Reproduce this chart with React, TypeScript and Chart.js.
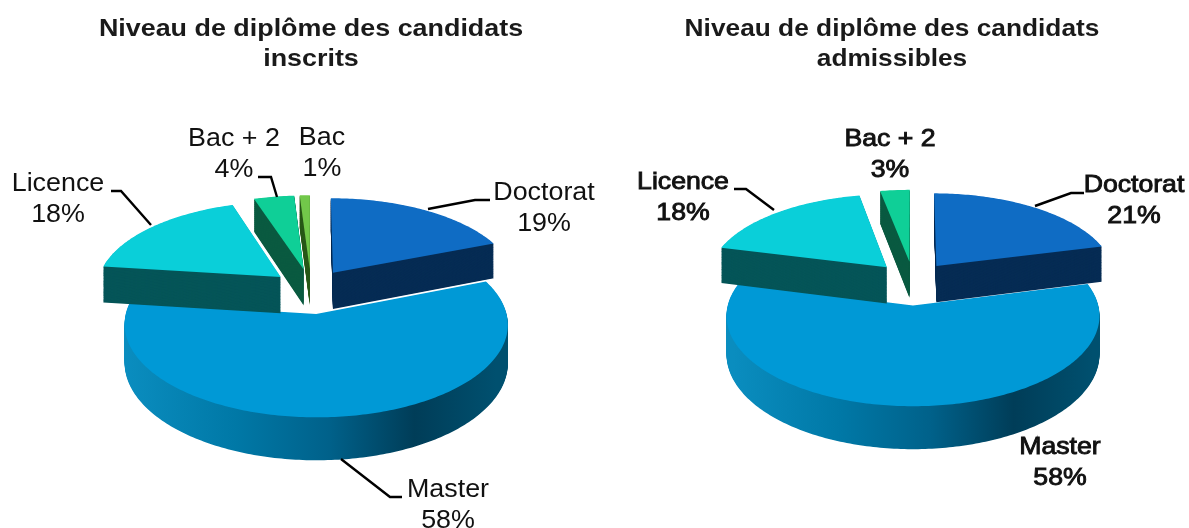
import React, { useEffect, useRef } from "react";
import { Chart, registerables } from "chart.js";

Chart.register(...registerables);

const categories = ["Doctorat", "Master", "Licence", "Bac + 2", "Bac"];
const inscritsValues = [19, 58, 18, 4, 1];
const admissiblesCategories = ["Doctorat", "Master", "Licence", "Bac + 2"];
const admissiblesValues = [21, 58, 18, 3];
const inscritsTitle = ["Niveau de diplôme des candidats", "inscrits"];
const admissiblesTitle = ["Niveau de diplôme des candidats", "admissibles"];

const topColors: Record<string, string> = {
  Doctorat: "#0F6CC4",
  Master: "#0099D6",
  Licence: "#0ACFD9",
  "Bac + 2": "#0FCF97",
  Bac: "#72C84A",
};
const sideColors: Record<string, string> = {
  Doctorat: "#062C54",
  Licence: "#055558",
  "Bac + 2": "#0A5A40",
  Bac: "#2A5A1A",
};
const drawOrder = ["Master", "Licence", "Bac + 2", "Bac", "Doctorat"];

const FONT = "'Liberation Sans', Arial, sans-serif";

type Cfg = {
  left: number;
  width: number;
  radius: number;
  offset: number;
  shiftX: number;
  paddingBottom: number;
  depth: number;
  labelFont: number;
  labelStroke: number;
  labelStretch: number;
  titleStretch: number;
  labels: Record<string, [number, number]>;
  leaders: [number, number][][];
};

const leftCfg: Cfg = {
  left: 0,
  width: 622,
  radius: 185,
  offset: 40,
  shiftX: 0,
  paddingBottom: 20,
  depth: 37,
  labelFont: 25,
  labelStroke: 0,
  labelStretch: 1.074,
  titleStretch: 1.12,
  labels: {
    Licence: [58, 184],
    "Bac + 2": [234, 139],
    Bac: [322, 138],
    Doctorat: [544, 193],
    Master: [448, 490],
  },
  leaders: [
    [[111, 191], [121, 191], [151, 225]],
    [[428, 209], [475, 200], [490, 200]],
    [[258, 177], [271, 177], [277, 197]],
    [[341, 459], [390, 497], [402, 497]],
  ],
};

const rightCfg: Cfg = {
  left: 595,
  width: 594,
  radius: 180,
  offset: 39,
  shiftX: 21,
  paddingBottom: 36,
  depth: 37,
  labelFont: 24,
  labelStroke: 0.9,
  labelStretch: 1.11,
  titleStretch: 1.095,
  labels: {
    Licence: [683, 182],
    "Bac + 2": [890, 139],
    Doctorat: [1134, 185],
    Master: [1060, 447],
  },
  leaders: [
    [[734, 189], [746, 189], [774, 210]],
    [[1035, 206], [1071, 193], [1084, 193]],
  ],
};

const PERSPECTIVE = 0.11;
const TILT = 0.468;
const EXPLODE_V = 1.2;

function pie3dPlugin(cfg: Cfg) {
  return {
    id: "pie3d",
    beforeDraw(chart: any) {
      const ctx: CanvasRenderingContext2D = chart.ctx;
      const mid = chart.width / 2;
      ctx.save();
      ctx.translate(mid, 0);
      ctx.scale(cfg.titleStretch, 1);
      ctx.translate(-mid, 0);
    },
    beforeDatasetsDraw(chart: any) {
      const ctx: CanvasRenderingContext2D = chart.ctx;
      ctx.restore();
      const meta = chart.getDatasetMeta(0);
      const labels: string[] = chart.data.labels;
      const order = drawOrder.filter((n) => labels.includes(n));
      for (const name of order) {
        const arc = meta.data[labels.indexOf(name)];
        const { x: ex, y, startAngle, endAngle, outerRadius } = arc.getProps(
          ["x", "y", "startAngle", "endAngle", "outerRadius"],
          true
        );
        const x = ex + cfg.shiftX;
        const off = (arc.options.offset || 0) / outerRadius;
        const mid = (startAngle + endAngle) / 2;
        const u0 = Math.cos(mid) * off;
        const v0 = Math.sin(mid) * off * EXPLODE_V;
        const project = (u: number, v: number) => {
          const d = 1 - PERSPECTIVE * v;
          return { px: x + (outerRadius * u) / d, py: y + (outerRadius * TILT * v) / d, d };
        };
        const pts: { px: number; py: number; d: number }[] = [project(u0, v0)];
        const steps = Math.max(4, Math.ceil((endAngle - startAngle) * 60));
        for (let i = 0; i <= steps; i++) {
          const a = startAngle + ((endAngle - startAngle) * i) / steps;
          pts.push(project(u0 + Math.cos(a), v0 + Math.sin(a)));
        }
        const path = (t: number) => {
          ctx.beginPath();
          pts.forEach((p, i) => {
            const yy = p.py + (t * cfg.depth) / p.d;
            if (i === 0) ctx.moveTo(p.px, yy);
            else ctx.lineTo(p.px, yy);
          });
          ctx.closePath();
        };
        let sideFill: any = sideColors[name];
        if (name === "Master") {
          const g = ctx.createLinearGradient(x - outerRadius, 0, x + outerRadius, 0);
          g.addColorStop(0, "#0A8DBF");
          g.addColorStop(0.3, "#0078A6");
          g.addColorStop(0.55, "#00618A");
          g.addColorStop(0.78, "#003D58");
          g.addColorStop(1, "#00506F");
          sideFill = g;
        }
        ctx.fillStyle = sideFill;
        const layers = Math.ceil(cfg.depth * 1.3);
        for (let i = layers; i >= 1; i--) {
          path(i / layers);
          ctx.fill();
        }
        path(0);
        ctx.fillStyle = arc.options.backgroundColor;
        ctx.fill();
      }
      return false;
    },
    afterDraw(chart: any) {
      const ctx: CanvasRenderingContext2D = chart.ctx;
      const labels: string[] = chart.data.labels;
      const values: number[] = chart.data.datasets[0].data;
      ctx.save();
      ctx.translate(-cfg.left, 0);
      ctx.strokeStyle = "#000";
      ctx.lineWidth = 2.4;
      for (const line of cfg.leaders) {
        ctx.beginPath();
        line.forEach(([a, b], i) => (i ? ctx.lineTo(a, b) : ctx.moveTo(a, b)));
        ctx.stroke();
      }
      ctx.fillStyle = "#111";
      ctx.font = `${cfg.labelFont}px ${FONT}`;
      ctx.textAlign = "center";
      ctx.textBaseline = "middle";
      ctx.lineWidth = cfg.labelStroke;
      ctx.strokeStyle = "#111";
      labels.forEach((name, i) => {
        const pos = cfg.labels[name];
        if (!pos) return;
        const rows = [name, `${values[i]}%`];
        rows.forEach((t, r) => {
          ctx.save();
          ctx.translate(pos[0], pos[1] + r * 31);
          ctx.scale(cfg.labelStretch, 1);
          ctx.fillText(t, 0, 0);
          if (cfg.labelStroke) ctx.strokeText(t, 0, 0);
          ctx.restore();
        });
      });
      ctx.restore();
    },
  };
}

function PieChart({
  cfg,
  names,
  values,
  title,
}: {
  cfg: Cfg;
  names: string[];
  values: number[];
  title: string[];
}) {
  const ref = useRef<HTMLCanvasElement>(null);
  useEffect(() => {
    const chart = new Chart(ref.current as HTMLCanvasElement, {
      type: "pie",
      data: {
        labels: names,
        datasets: [
          {
            data: values,
            backgroundColor: names.map((n) => topColors[n]),
            borderWidth: 0,
            offset: cfg.offset,
          },
        ],
      },
      options: {
        animation: false,
        responsive: false,
        events: [],
        radius: cfg.radius,
        layout: { padding: { bottom: cfg.paddingBottom } },
        plugins: {
          legend: { display: false },
          tooltip: { enabled: false },
          title: {
            display: true,
            text: title,
            color: "#1a1a1a",
            font: { family: FONT, size: 24, weight: "bold", lineHeight: 30 / 24 },
            padding: { top: 14, bottom: 0 },
          },
        },
      } as any,
      plugins: [pie3dPlugin(cfg)],
    });
    return () => chart.destroy();
  }, []);
  return (
    <canvas
      ref={ref}
      width={cfg.width}
      height={528}
      style={{ position: "absolute", left: cfg.left, top: 0, width: cfg.width, height: 528 }}
    />
  );
}

export default function App() {
  return (
    <div style={{ position: "fixed", left: 0, top: 0, width: 1189, height: 528, background: "#fff", overflow: "hidden" }}>
      <PieChart cfg={leftCfg} names={categories} values={inscritsValues} title={inscritsTitle} />
      <PieChart cfg={rightCfg} names={admissiblesCategories} values={admissiblesValues} title={admissiblesTitle} />
    </div>
  );
}
